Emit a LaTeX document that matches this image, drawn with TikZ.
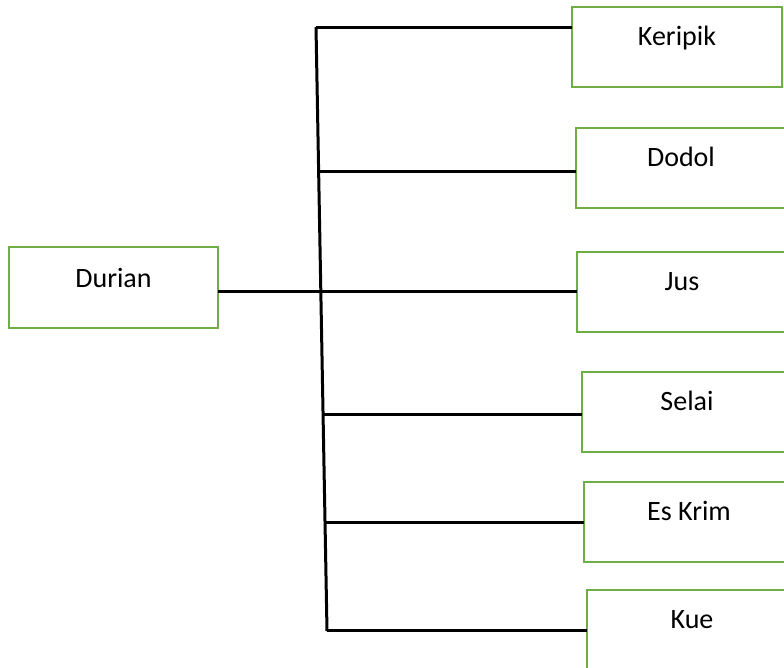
\documentclass[tikz,border=0pt]{standalone}
\usepackage{fontspec}
\setmainfont{Carlito}
\definecolor{boxgreen}{HTML}{70AD47}
\begin{document}
\begin{tikzpicture}[x=1pt,y=-1pt,
  itembox/.style={draw=boxgreen, line width=2.5pt, fill=white, anchor=north west,
    minimum width=210pt, minimum height=80pt, inner sep=0pt, outer sep=0pt,
    text height=20pt, text depth=24pt, font=\fontsize{28}{32}\selectfont},
  link/.style={draw=black, line width=3pt}]
\useasboundingbox (0,0) rectangle (784,667);
\clip (0,0) rectangle (784,667);
\fill[white] (0,0) rectangle (784,667);
% boxes
\node[itembox] (ker) at (572,7) {Keripik};
\node[itembox] (dod) at (576,128) {Dodol};
\node[itembox] (jus) at (577,252) {Jus};
\node[itembox] (sel) at (582,372) {Selai};
\node[itembox] (esk) at (584,482) {Es Krim};
\node[itembox] (kue) at (587,590) {Kue};
\node[itembox, minimum width=209pt, minimum height=81pt, text depth=20pt] (dur) at (9,247) {Durian};
% trunk
\coordinate (top) at (316,27);
\coordinate (bot) at (327,631);
\coordinate (t1) at (316,27);
\coordinate (t2) at (318.6,171);
\coordinate (t3) at (320.8,291);
\coordinate (t4) at (323,414);
\coordinate (t5) at (325,522);
\coordinate (t6) at (327,630);
\coordinate (d1) at (218,291);
\draw[link] (top) -- (bot);
\draw[link] (t1) -- (t1 -| ker.west);
\draw[link] (t2) -- (t2 -| dod.west);
\draw[link] (d1) -- (d1 -| jus.west);
\draw[link] (t4) -- (t4 -| sel.west);
\draw[link] (t5) -- (t5 -| esk.west);
\draw[link] (t6) -- (t6 -| kue.west);
\end{tikzpicture}
\end{document}
